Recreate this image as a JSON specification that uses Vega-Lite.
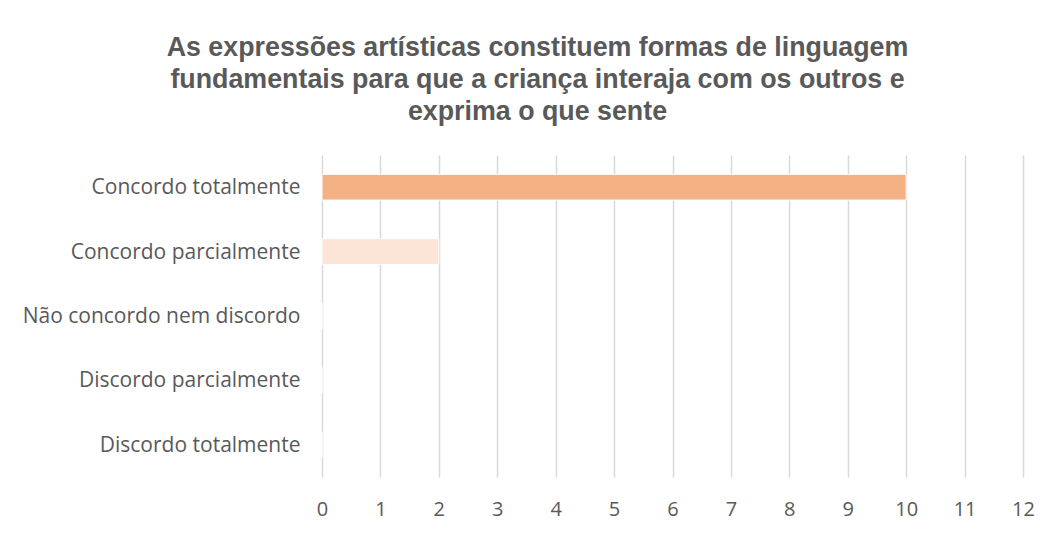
{
  "$schema": "https://vega.github.io/schema/vega-lite/v6.json",
  "width": 701,
  "height": 322,
  "autosize": {"type": "none"},
  "padding": {"left": 322, "top": 155, "right": 31, "bottom": 56},
  "background": "white",
  "title": {
    "text": ["As expressões artísticas constituem formas de linguagem", "fundamentais para que a criança interaja com os outros e", "exprima o que sente"],
    "anchor": "middle",
    "dx": -135,
    "offset": 29,
    "font": "Liberation Sans",
    "fontSize": 26.8,
    "fontWeight": "bold",
    "color": "#595959",
    "lineHeight": 32
  },
  "data": {
    "values": [
      {"categoria": "Concordo totalmente", "valor": 10},
      {"categoria": "Concordo parcialmente", "valor": 2},
      {"categoria": "Não concordo nem discordo", "valor": 0},
      {"categoria": "Discordo parcialmente", "valor": 0},
      {"categoria": "Discordo totalmente", "valor": 0}
    ]
  },
  "mark": {"type": "bar", "stroke": "white", "strokeWidth": 1},
  "encoding": {
    "y": {
      "field": "categoria",
      "type": "nominal",
      "sort": null,
      "scale": {"paddingInner": 0.6, "paddingOuter": 0.3},
      "axis": {"title": null, "ticks": false, "domain": false, "labelPadding": 22, "labelFont": "Open Sans", "labelFontSize": 21, "labelColor": "#595959", "labelLimit": 400, "labelOffset": 1}
    },
    "x": {
      "field": "valor",
      "type": "quantitative",
      "scale": {"domain": [0, 12]},
      "axis": {"title": null, "ticks": false, "domain": false, "values": [0,1,2,3,4,5,6,7,8,9,10,11,12], "labelFlush": false, "labelPadding": 22, "labelFont": "Open Sans", "labelFontSize": 20, "labelColor": "#595959", "gridColor": "#D9D9D9", "gridWidth": 1.5}
    },
    "color": {
      "field": "categoria",
      "type": "nominal",
      "legend": null,
      "scale": {
        "domain": ["Concordo totalmente", "Concordo parcialmente", "Não concordo nem discordo", "Discordo parcialmente", "Discordo totalmente"],
        "range": ["#F4B183", "#FBE5D6", "#F8CBAD", "#C55A11", "#843C0C"]
      }
    }
  },
  "config": {"view": {"stroke": null}}
}
